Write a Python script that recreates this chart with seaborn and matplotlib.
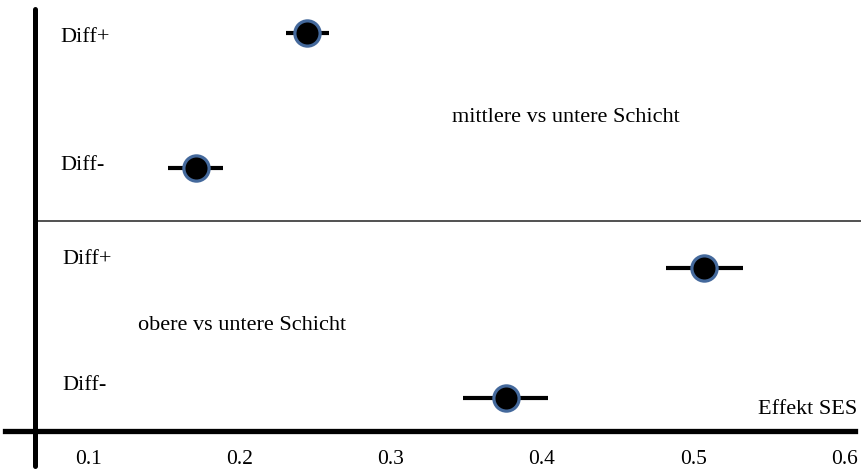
import numpy as np
import pandas as pd
import matplotlib
matplotlib.use("Agg")
import matplotlib.pyplot as plt
import seaborn as sns

# Effect of SES on the outcome, with confidence bounds
comparisons = ["mittlere vs untere Schicht", "mittlere vs untere Schicht",
               "obere vs untere Schicht", "obere vs untere Schicht"]
groups = ["Diff+", "Diff-", "Diff+", "Diff-"]
effect = [0.245, 0.171, 0.507, 0.376]
lower = [0.231, 0.153, 0.482, 0.348]
upper = [0.259, 0.189, 0.533, 0.404]
tick_values = [0.1, 0.2, 0.3, 0.4, 0.5, 0.6]
tick_labels = ["0.1", "0.2", "0.3", "0.4", "0.5", "0.6"]

# vertical layout of the four rows (top to bottom)
row_pos = [33, 168, 268, 398]

df = pd.DataFrame({"comparison": comparisons, "group": groups,
                   "effect": effect, "lower": lower, "upper": upper,
                   "row": row_pos})

sns.set_theme(style="white")
plt.rcParams["font.family"] = ["Liberation Serif", "DejaVu Serif"]
plt.rcParams["text.color"] = "black"
plt.rcParams["xtick.color"] = "black"

W, H, DPI = 861, 472, 100
fig = plt.figure(figsize=(W / DPI, H / DPI), dpi=DPI)
axis_y = 431  # pixel row of the horizontal axis
ax = fig.add_axes([0, 1 - axis_y / H, 1, axis_y / H])

# x scale: pixels -> values
px0, v_per_px = 466.3, 1 / 1512.5
def xv(px):
    return 0.35 + (px - px0) * v_per_px

ax.set_xlim(xv(0), xv(W))
ax.set_ylim(axis_y, 0)

err = [df["effect"] - df["lower"], df["upper"] - df["effect"]]
ax.errorbar(df["effect"], df["row"], xerr=err, fmt="none",
            ecolor="black", elinewidth=3.0, capsize=0, zorder=2)
sns.scatterplot(data=df, x="effect", y="row", ax=ax, s=330,
                color="black", edgecolor="#44699c", linewidth=2.3,
                zorder=3, legend=False)

# separator between the two comparisons
ax.hlines(221, xv(35), xv(W), color="#333333", linewidth=1.2)

# axes lines
for s in ["top", "right", "left"]:
    ax.spines[s].set_visible(False)
ax.spines["bottom"].set_linewidth(3.8)
ax.spines["bottom"].set_color("black")
ax.spines["bottom"].set_bounds(xv(5), xv(855))
ax.axvline(xv(35), ymin=(axis_y - 466) / axis_y, ymax=(axis_y - 9) / axis_y,
           color="black", linewidth=3.6, clip_on=False)

ax.set_xticks(tick_values)
ax.set_xticklabels(tick_labels, fontsize=15.5)
ax.tick_params(axis="x", length=0, pad=14)
ax.set_yticks([])
ax.set_xlabel("")
ax.set_ylabel("")

def ftext(x, y, s, **kw):
    fig.text(x / W, 1 - y / H, s, fontsize=16, va="center", color="black", **kw)

# row labels
label_px = [(60, 38), (60, 166), (62, 259), (62, 386)]
for (lx, ly), g in zip(label_px, groups):
    ftext(lx, ly, g, ha="left")

# comparison labels
ftext(452, 118, "mittlere vs untere Schicht", ha="left")
ftext(138, 325, "obere vs untere Schicht", ha="left")
ftext(857, 410, "Effekt SES", ha="right")

fig.savefig("out.png", dpi=DPI)
